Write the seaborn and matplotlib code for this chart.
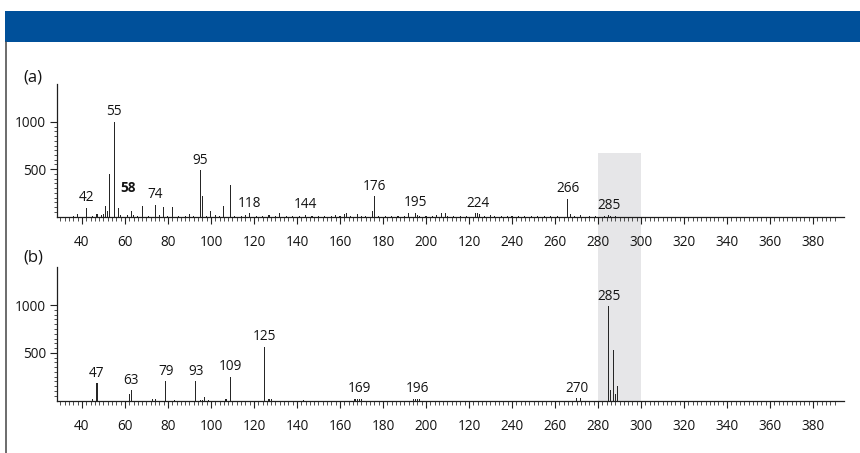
import pandas as pd
import seaborn as sns
import matplotlib.pyplot as plt
from matplotlib.patches import Rectangle
from matplotlib.lines import Line2D
from matplotlib.ticker import FixedLocator
from matplotlib.transforms import blended_transform_factory

sns.set_style("ticks")
plt.rcParams["font.family"] = ["Open Sans", "DejaVu Sans"]

# ---- spectrum (a): m/z and relative abundance ----
mz_a = [36, 38, 42, 45, 47, 49, 50, 51, 52, 53, 55, 57, 58, 61, 63, 64, 66, 68,
        71, 74, 76, 78, 80, 82, 85, 88, 90, 92, 95, 96, 98, 100, 102, 104, 106,
        109, 111, 114, 116, 118, 121, 124, 127, 130, 132, 135, 138, 141, 144,
        147, 150, 153, 156, 158, 160, 162, 163, 165, 168, 170, 172, 175, 176,
        178, 181, 184, 187, 190, 192, 195, 196, 197, 200, 203, 205, 207, 209,
        210, 213, 216, 219, 223, 224, 225, 227, 230, 232, 235, 238, 240, 243,
        246, 249, 252, 255, 258, 261, 266, 267, 269, 272, 276, 279, 283, 285,
        286, 288]
int_a = [8, 22, 95, 10, 25, 12, 25, 115, 60, 450, 1000, 95, 12, 15, 55, 20, 8,
         115, 10, 125, 15, 100, 8, 100, 8, 10, 25, 8, 490, 213, 10, 60, 20, 8,
         115, 337, 10, 8, 12, 35, 10, 8, 12, 10, 35, 10, 8, 10, 20, 8, 10, 8,
         10, 20, 10, 25, 35, 8, 25, 10, 8, 55, 213, 10, 8, 10, 8, 10, 35, 40,
         15, 10, 8, 10, 15, 35, 35, 10, 8, 10, 8, 35, 35, 25, 10, 15, 10, 8,
         10, 10, 8, 10, 8, 10, 8, 10, 8, 185, 25, 10, 12, 8, 8, 10, 15, 10, 8]
labels_a = [42, 55, 58, 74, 95, 118, 144, 176, 195, 224, 266, 285]

# ---- spectrum (b) ----
mz_b = [45, 47, 62, 63, 73, 74, 79, 83, 93, 95, 96, 97, 99, 107, 109, 125, 127,
        128, 143, 167, 168, 169, 170, 194, 195, 196, 197, 270, 272, 285, 286,
        287, 288, 289]
int_b = [18, 180, 70, 110, 18, 18, 200, 10, 200, 10, 10, 40, 10, 18, 250, 562,
         20, 20, 6, 18, 20, 20, 15, 15, 20, 20, 15, 25, 25, 990, 110, 528, 70,
         150]
labels_b = [47, 63, 79, 93, 109, 125, 169, 196, 270, 285]

# ---- axis ticks ----
x_tick_values = list(range(40, 381, 20))
x_tick_labels = ["40", "60", "80", "100", "120", "140", "160", "180", "200",
                 "120", "240", "260", "280", "300", "320", "340", "360", "380"]
y_tick_values = [500, 1000]
y_tick_labels = ["500", "1000"]
highlight_mz = (280, 300)

W, H = 860, 453
BAR = "#262626"
INK = "#141414"
FS = 9.8

fig = plt.figure(figsize=(W / 100, H / 100), dpi=100)
fig.patch.set_facecolor("white")

ax_a = fig.add_axes([57 / W, 236.5 / H, 787 / W, 132.5 / H])
ax_b = fig.add_axes([57 / W, 52.5 / H, 787 / W, 133.5 / H])


def draw_spectrum(ax, mz, inten, labels, bold=(), shifted=None):
    df = pd.DataFrame({"mz": mz, "intensity": inten})
    sns.barplot(data=df, x="mz", y="intensity", native_scale=True, width=0.5,
                color=BAR, saturation=1, linewidth=0, errorbar=None, ax=ax)
    ax.set(xlabel="", ylabel="")
    ax.set_xlim(28.4, 394.4)
    ax.set_ylim(0, 1400)
    ax.set_facecolor("none")
    sns.despine(ax=ax)
    for side in ("left", "bottom"):
        ax.spines[side].set_color("#1e1e1e")
        ax.spines[side].set_linewidth(0.9)
    ax.spines["left"].set_bounds(0, 1400)
    ax.spines["bottom"].set_bounds(28.4, 394.4)

    ax.xaxis.set_major_locator(FixedLocator(x_tick_values))
    ax.set_xticklabels(x_tick_labels)
    ax.xaxis.set_minor_locator(FixedLocator(
        [v for v in range(30, 391, 2) if v % 20]))
    ax.yaxis.set_major_locator(FixedLocator(y_tick_values))
    ax.set_yticklabels(y_tick_labels)
    ax.yaxis.set_minor_locator(FixedLocator(
        [v for v in range(50, 1000, 50) if v != 500]))

    ax.tick_params(axis="x", which="major", direction="out", length=5,
                   width=0.8, pad=8, labelsize=FS, colors="#222222",
                   labelcolor=INK)
    ax.tick_params(axis="x", which="minor", direction="out", length=2.8,
                   width=0.6, colors="#333333")
    ax.tick_params(axis="y", which="major", direction="out", length=5,
                   width=0.8, pad=3, labelsize=FS, colors="#222222",
                   labelcolor=INK)
    ax.tick_params(axis="y", which="minor", direction="out", length=2.5,
                   width=0.6, colors="#333333")

    heights = dict(zip(mz, inten))
    for m in labels:
        dx, dy = (shifted or {}).get(m, (0, 10))
        ax.annotate(str(m), xy=(m, heights[m]), xytext=(dx, dy),
                    textcoords="offset pixels", ha="center", va="center",
                    fontsize=FS, color=INK,
                    fontweight="bold" if m in bold else "normal")


draw_spectrum(ax_a, mz_a, int_a, labels_a, bold=(58,), shifted={58: (7, 27)})
draw_spectrum(ax_b, mz_b, int_b, labels_b)

# shaded m/z window spanning both spectra
band = Rectangle((highlight_mz[0], 52 / H), highlight_mz[1] - highlight_mz[0],
                 (300 - 52) / H,
                 transform=blended_transform_factory(ax_a.transData,
                                                     fig.transFigure),
                 facecolor="#e6e6e8", edgecolor="none", zorder=-1)
fig.add_artist(band)

# header bar and left rule
fig.add_artist(Rectangle((5 / W, 411 / H), 855 / W, 31 / H,
                         transform=fig.transFigure, facecolor="#00509a",
                         edgecolor="none"))
fig.add_artist(Line2D([5.8 / W, 5.8 / W], [0, 411 / H],
                      transform=fig.transFigure, color="#444444", lw=1.1))

fig.text(33 / W, (H - 77) / H, "(a)", ha="center", va="center",
         fontsize=12, color=INK)
fig.text(33 / W, (H - 258) / H, "(b)", ha="center", va="center",
         fontsize=12, color=INK)

fig.savefig("out.png", dpi=100, facecolor="white")
